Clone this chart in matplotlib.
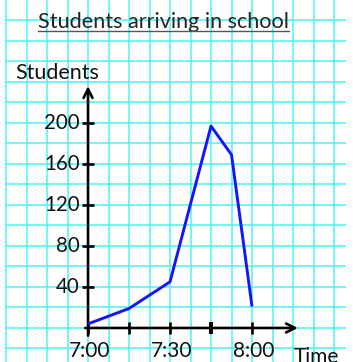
import numpy as np
import matplotlib
matplotlib.use("Agg")
import matplotlib.pyplot as plt

# Data (minutes after 7:00, number of students)
minutes = [0, 15, 30, 45, 52.5, 60]
students = [4, 19, 45, 197, 169, 21]
y_ticks = [40, 80, 120, 160, 200]
x_ticks = [0, 15, 30, 45, 60]
x_tick_labels = {0: "7:00", 30: "7:30", 60: "8:00"}
title = "Students arriving in school"
y_label = "Students"
x_label = "Time"

plt.rcParams['font.family'] = ['Lato', 'DejaVu Sans']

fig = plt.figure(figsize=(3.53, 3.62), dpi=100)
ax = fig.add_axes([0, 0, 1, 1])
ax.set_xlim(-32.2, 96.95)
ax.set_ylim(-33.2, 320)
ax.axis('off')

grid_c = '#4cf4f4'
gx = np.arange(-30, 90.1, 7.5)
gy = np.arange(-20, 300.1, 20)
ax.vlines(gx, -33.2, 320, color=grid_c, lw=1.1, zorder=1)
ax.hlines(gy, -30, 94.4, color=grid_c, lw=1.1, zorder=1)

# axes with arrows
ax.annotate('', xy=(0, 236), xytext=(0, -7.5),
            arrowprops=dict(arrowstyle='->', lw=1.9, color='black',
                            mutation_scale=16, shrinkA=0, shrinkB=0), zorder=3)
ax.annotate('', xy=(76.8, 0), xytext=(-1, 0),
            arrowprops=dict(arrowstyle='->', lw=1.9, color='black',
                            mutation_scale=16, shrinkA=0, shrinkB=0), zorder=3)

# ticks
ax.hlines(y_ticks, -2.3, 2.3, color='black', lw=1.9, zorder=3)
for t in x_ticks:
    ax.vlines(t, -5.5, 5.5, color='black', lw=2.8 if t == 45 else 1.9, zorder=3)

for v in y_ticks:
    ax.text(-3.0, v, str(v), ha='right', va='center', fontsize=14.8, color='#111111')
for t, lab in x_tick_labels.items():
    ax.text(t + 0.6, -22, lab, ha='center', va='center', fontsize=15, color='#111111')

ax.text(75.2, -18.8, x_label, ha='left', va='top', fontsize=15, color='#111111')
ax.text(-26.7, 243, y_label, ha='left', va='baseline', fontsize=15.5, color='#111111')

tt = ax.text(27.8, 293, title, ha='center', va='baseline', fontsize=15.6, color='#222222')

# data line
ax.plot(minutes, students, color='#1414ff', lw=2.1, zorder=4, solid_capstyle='butt')

# underline the title
fig.canvas.draw()
bb = tt.get_window_extent().transformed(ax.transData.inverted())
ax.plot([bb.x0, bb.x1], [289.5, 289.5], color='#555555', lw=1.0, zorder=3)

fig.savefig('out.png', dpi=100)
